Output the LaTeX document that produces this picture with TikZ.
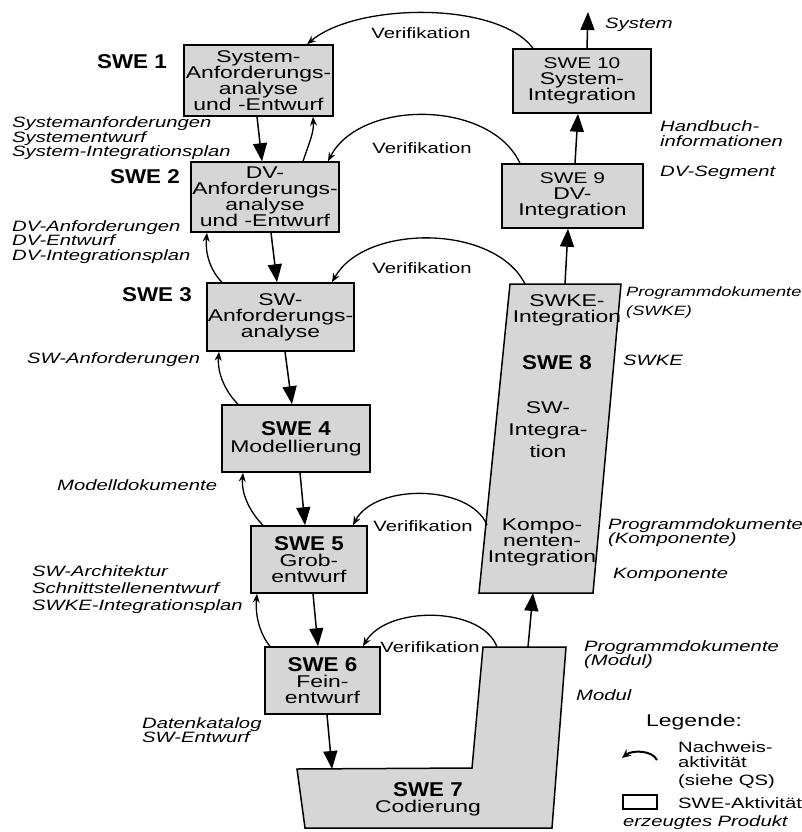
\documentclass[tikz,border=0pt]{standalone}
\usepackage{fontspec}
\setmainfont{Liberation Sans}[FakeStretch=1.35]
\newfontfamily\boldfam{Liberation Sans}[FakeStretch=1.12]
\usetikzlibrary{arrows.meta}
\definecolor{boxfill}{gray}{0.84}
\newcommand\ftxt{\fontsize{17}{16}\selectfont}
\newcommand\fttl{\fontsize{15.5}{16}\selectfont}
\newcommand\flab{\fontsize{15}{14.5}\selectfont\itshape}
\newcommand\fver{\fontsize{15}{15}\selectfont}
\newcommand\fbig{\boldfam\bfseries\fontsize{20}{20}\selectfont}
\begin{document}
\begin{tikzpicture}[x=1pt,y=-1pt,
  act/.style={draw, line width=1.5pt, fill=boxfill, inner sep=0pt, align=center, font=\ftxt},
  shapefill/.style={draw, line width=1.5pt, fill=boxfill},
  flow/.style={line width=1.5pt, -{Triangle[width=14pt,length=18pt]}},
  ver/.style={line width=1.3pt, -{Stealth[width=7pt,length=9pt]}},
  lab/.style={font=\flab, align=left, anchor=west, inner sep=0pt},
  swel/.style={font=\fbig, inner sep=0pt},
  vtxt/.style={font=\fver, inner sep=0pt},
  txt/.style={font=\ftxt, align=center, inner sep=0pt}
]
\useasboundingbox (0,0) rectangle (802,832);

% ---- activity boxes ----
\node[act, minimum width=149pt, minimum height=71pt] (swe1) at (258.5,80.5) {System-\\Anforderungs-\\analyse\\und -Entwurf};
\node[act, minimum width=148pt, minimum height=70pt] (swe2) at (265,197) {DV-\\Anforderungs-\\analyse\\und -Entwurf};
\node[act, minimum width=147pt, minimum height=68pt] (swe3) at (280.5,317) {SW-\\Anforderungs-\\analyse};
\node[act, minimum width=148pt, minimum height=67pt] (swe4) at (296,438.5) {{\fbig SWE 4}\\[1pt]Modellierung};
\node[act, minimum width=116pt, minimum height=67pt] (swe5) at (309,559.5) {{\fbig SWE 5}\\Grob-\\entwurf};
\node[act, minimum width=115pt, minimum height=67pt] (swe6) at (322.5,680.5) {{\fbig SWE 6}\\Fein-\\entwurf};
\node[act, minimum width=141pt, minimum height=64pt] (swe9) at (572.5,196) {{\fttl SWE 9}\\DV-\\Integration};
\node[act, minimum width=138pt, minimum height=64pt] (swe10) at (582,81) {{\fttl SWE 10}\\System-\\Integration};

% SWE 7 (L-shape) and SWE 8 (slanted)
\draw[shapefill] (297,769) -- (472,768) -- (483,647) -- (566,647) -- (552,828) -- (305,828) -- cycle;
\draw[shapefill] (510,284) -- (621,284) -- (593,593) -- (479,593) -- cycle;
\node[txt] (t7) at (428,799) {{\fbig SWE 7}\\Codierung};
\node[txt] (t8a) at (567,310) {SWKE-\\Integration};
\node[swel] (t8b) at (557,363) {SWE 8};
\node[txt] (t8c) at (548,430) {SW-\\[6pt]Integra-\\[6pt]tion};
\node[txt] (t8d) at (542,542) {Kompo-\\nenten-\\Integration};

\coordinate (s7in) at (332,769);
\coordinate (s7top) at (528,647);
\coordinate (s7tl) at (497,647);
\coordinate (s8bot) at (533,593);
\coordinate (s8top) at (565,284);
\coordinate (s8tl) at (525,284);
\coordinate (s8l) at (487,525);
\coordinate (sysend) at (588,12);

% ---- SWE labels ----
\node[swel] (l1) at (132,62) {SWE 1};
\node[swel] (l2) at (145,177) {SWE 2};
\node[swel] (l3) at (157,295) {SWE 3};

% ---- product flow ----
\draw[flow] ([xshift=-1.5pt]swe1.south) -- ([xshift=-3pt]swe2.north);
\draw[flow] ([xshift=6pt]swe2.south) -- ([xshift=-3.5pt]swe3.north);
\draw[flow] ([xshift=4.5pt]swe3.south) -- ([xshift=-4pt]swe4.north);
\draw[flow] ([xshift=4pt]swe4.south) -- ([xshift=-4pt]swe5.north);
\draw[flow] ([xshift=4pt]swe5.south) -- ([xshift=-4.5pt]swe6.north);
\draw[flow] ([xshift=4.5pt]swe6.south) -- (s7in);
\draw[flow] (s7top) -- (s8bot);
\draw[flow] (s8top) -- ([xshift=-4.5pt]swe9.south);
\draw[flow] ([xshift=2.5pt]swe9.north) -- ([xshift=-4pt]swe10.south);
\draw[flow] ([xshift=5pt]swe10.north) -- (sysend);

% ---- return arrows ----
\draw[ver] ([xshift=38pt]swe2.north) .. controls +(6,-18) and +(1,16) .. ([xshift=54.5pt]swe1.south);
\draw[ver] ([xshift=-58.5pt]swe3.north) .. controls +(-12,-12) and +(-2,20) .. ([xshift=-58pt]swe2.south);
\draw[ver] ([xshift=-58pt]swe4.north) .. controls +(-12,-12) and +(-2,22) .. ([xshift=-61.5pt]swe3.south);
\draw[ver] ([xshift=-46pt]swe5.north) .. controls +(-12,-12) and +(-2,22) .. ([xshift=-53pt]swe4.south);
\draw[ver] ([xshift=-52.5pt]swe6.north) .. controls +(-10,-12) and +(-2,22) .. ([xshift=-52pt]swe5.south);

% ---- verification arcs ----
\draw[ver] ([xshift=-49pt]swe10.north) .. controls +(-35,-47) and +(50,-42) .. ([xshift=48.5pt]swe1.north);
\draw[ver] ([xshift=-52.5pt]swe9.north) .. controls +(-30,-64) and +(32,-62) .. ([xshift=63pt]swe2.north);
\draw[ver] (s8tl) .. controls +(-30,-60) and +(33,-59) .. ([xshift=51.5pt]swe3.north);
\draw[ver] (s8l) .. controls +(-17,-41) and +(22,-42) .. ([xshift=44pt]swe5.north);
\draw[ver] (s7tl) .. controls +(-15,-41) and +(24,-41) .. ([xshift=40.5pt]swe6.north);

\node[vtxt] (v1) at (421,33) {Verifikation};
\node[vtxt] (v2) at (422,148) {Verifikation};
\node[vtxt] (v3) at (422,268) {Verifikation};
\node[vtxt] (v4) at (423,526) {Verifikation};
\node[vtxt] (v5) at (430,647) {Verifikation};

% ---- product labels left ----
\node[lab] (p1) at (12,138.5) {Systemanforderungen\\Systementwurf\\System-Integrationsplan};
\node[lab] (p2) at (12,242) {DV-Anforderungen\\DV-Entwurf\\DV-Integrationsplan};
\node[lab] (p3) at (27,360) {SW-Anforderungen};
\node[lab] (p4) at (57,485) {Modelldokumente};
\node[lab] (p5) at (32,590) {SW-Architektur\\[2.5pt]Schnittstellenentwurf\\[2.5pt]SWKE-Integrationsplan};
\node[lab] (p6) at (142,730) {Datenkatalog\\SW-Entwurf};

% ---- product labels right ----
\node[lab] (r1) at (605,25) {System};
\node[lab] (r2) at (660,133.5) {Handbuch-\\informationen};
\node[lab] (r3) at (660,173) {DV-Segment};
\node[lab, font=\fontsize{13.5}{14}\selectfont\itshape] (r4) at (626,302.5) {Programmdokumente\\[5pt](SWKE)};
\node[lab] (r5) at (623,360) {SWKE};
\node[lab] (r6) at (608,532.5) {Programmdokumente\\(Komponente)};
\node[lab] (r7) at (613,575) {Komponente};
\node[lab] (r8) at (584,654.5) {Programmdokumente\\(Modul)};
\node[lab] (r9) at (576,695) {Modul};

% ---- legend ----
\node[font=\fontsize{17}{17}\selectfont, anchor=west, inner sep=0pt] (leg) at (646,722) {Legende:};
\coordinate (la) at (657,760);
\coordinate (lb) at (622,758);
\draw[line width=2pt, -{Stealth[width=8pt,length=9pt]}] (la) .. controls +(-5,-10) and +(10,-8) .. (lb);
\node[font=\fver, align=left, anchor=west, inner sep=0pt] (legt1) at (678,765) {Nachweis-\\aktivität\\[3pt](siehe QS)};
\node[draw, line width=1.5pt, minimum width=34pt, minimum height=14pt, inner sep=0pt] (legbox) at (640,802) {};
\node[font=\fver, anchor=west, inner sep=0pt] (legt2) at (678,803) {SWE-Aktivität};
\node[lab] (legt3) at (623,823) {erzeugtes Produkt};
\end{tikzpicture}
\end{document}
